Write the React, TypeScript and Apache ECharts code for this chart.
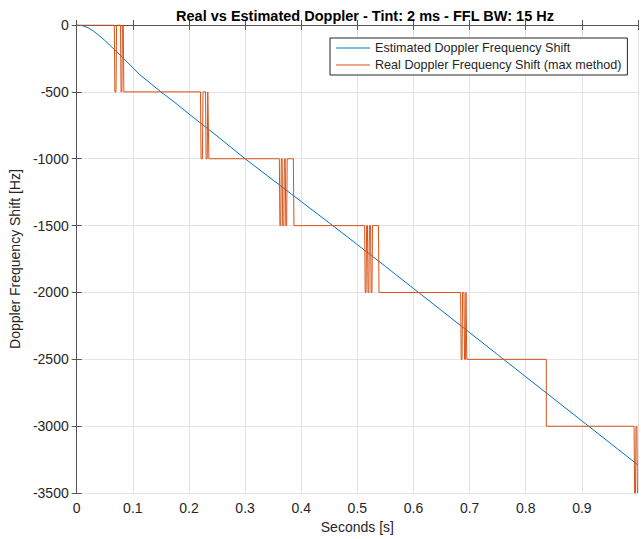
import React, { useEffect, useRef } from "react";
import * as echarts from "echarts";

const TITLE = "Real vs Estimated Doppler - Tint: 2 ms - FFL BW: 15 Hz";
const X_NAME = "Seconds [s]";
const Y_NAME = "Doppler Frequency Shift [Hz]";
const EST_NAME = "Estimated Doppler Frequency Shift";
const REAL_NAME = "Real Doppler Frequency Shift (max method)";

// Estimated Doppler (time [s], frequency [Hz])
const estT = [0, 0.01, 0.02, 0.03, 0.04, 0.05, 0.06, 0.07, 0.08, 0.09, 0.1, 0.1125, 0.125, 0.15, 0.175, 0.2, 0.25, 0.3, 0.35, 0.4, 0.45, 0.5, 0.55, 0.6, 0.65, 0.7, 0.75, 0.8, 0.85, 0.9, 0.95, 1.0];
const estV = [0, -5, -20, -45, -80, -115, -155, -195, -235, -278, -320, -371, -415, -500, -580, -665, -830, -1000, -1160, -1320, -1480, -1642, -1805, -1970, -2135, -2300, -2465, -2630, -2795, -2960, -3125, -3290];

// Real Doppler (max method) as step points (time [s], frequency [Hz])
const realT = [0, 0.067, 0.068, 0.070, 0.071, 0.078, 0.079, 0.0805, 0.0815, 0.083, 0.084,
  0.2205, 0.2215, 0.224, 0.225, 0.2295, 0.2305, 0.2325, 0.2335, 0.2345, 0.2355,
  0.361, 0.362, 0.3635, 0.3645, 0.366, 0.367, 0.369, 0.370, 0.3715, 0.3725, 0.374, 0.375, 0.386, 0.387,
  0.513, 0.514, 0.5155, 0.5165, 0.518, 0.519, 0.5205, 0.5215, 0.5235, 0.5245, 0.526, 0.527, 0.5376, 0.5386,
  0.684, 0.685, 0.6865, 0.6875, 0.690, 0.691, 0.6925, 0.6935, 0.694, 0.695,
  0.8366, 0.8366,
  0.993, 0.994, 0.9955, 0.9965, 0.998, 0.999, 1.0];
const realV = [0, 0, -500, -500, 0, 0, -500, -500, 0, 0, -500,
  -500, -1000, -1000, -500, -500, -1000, -1000, -500, -500, -1000,
  -1000, -1500, -1500, -1000, -1000, -1500, -1500, -1000, -1000, -1500, -1500, -1000, -1000, -1500,
  -1500, -2000, -2000, -1500, -1500, -2000, -2000, -1500, -1500, -2000, -2000, -1500, -1500, -2000,
  -2000, -2500, -2500, -2000, -2000, -2500, -2500, -2000, -2000, -2500,
  -2500, -3000,
  -3000, -3500, -3500, -3000, -3000, -3500, -3500];

const FONT = "'Liberation Sans', Arial, Helvetica, sans-serif";
const AXIS_COLOR = "#555555";
const TEXT_COLOR = "#262626";
const GRID_COLOR = "#e3e3e3";

export default function App() {
  const ref = useRef<HTMLDivElement>(null);
  useEffect(() => {
    if (!ref.current) return;
    const chart = echarts.init(ref.current, undefined, { renderer: "svg" });
    const estData = estT.map((t, i) => [t, estV[i]]);
    const realData = realT.map((t, i) => [t, realV[i]]);
    const commonTick = { show: true, inside: true, length: 5, lineStyle: { color: AXIS_COLOR } };
    chart.setOption({
      animation: false,
      backgroundColor: "#ffffff",
      textStyle: { fontFamily: FONT },
      title: {
        text: TITLE,
        left: 360,
        textAlign: "center",
        top: 3,
        textStyle: { fontSize: 14.5, fontWeight: "bold", color: "#000", fontFamily: FONT },
      },
      legend: {
        data: [EST_NAME, REAL_NAME],
        orient: "vertical",
        left: 330,
        top: 38,
        padding: [3, 6, 3, 6],
        itemGap: 3,
        itemWidth: 34,
        itemHeight: 1,
        icon: "rect",
        borderColor: "#262626",
        borderWidth: 1,
        borderRadius: 0,
        backgroundColor: "#ffffff",
        textStyle: { fontSize: 12.6, color: TEXT_COLOR, fontFamily: FONT, lineHeight: 14 },
      },
      grid: { left: 76, right: -2, top: 25, bottom: 40, containLabel: false },
      xAxis: [
        {
          type: "value",
          min: 0,
          max: 1,
          interval: 0.1,
          name: X_NAME,
          nameLocation: "middle",
          nameGap: 26,
          nameTextStyle: { fontSize: 14, color: TEXT_COLOR, fontFamily: FONT },
          axisLine: { show: true, lineStyle: { color: AXIS_COLOR } },
          axisTick: commonTick,
          axisLabel: {
            fontSize: 14,
            color: TEXT_COLOR,
            margin: 8,
            fontFamily: FONT,
            formatter: (v: number) => (v >= 0.999 ? "" : String(+v.toFixed(1))),
          },
          splitLine: { show: true, lineStyle: { color: GRID_COLOR } },
        },
        {
          type: "value",
          position: "top",
          min: 0,
          max: 1,
          interval: 0.1,
          axisLine: { show: true, lineStyle: { color: AXIS_COLOR } },
          axisTick: commonTick,
          axisLabel: { show: false },
          splitLine: { show: false },
        },
      ],
      yAxis: [
        {
          type: "value",
          min: -3500,
          max: 0,
          interval: 500,
          name: Y_NAME,
          nameLocation: "middle",
          nameGap: 38,
          nameTextStyle: { fontSize: 14, color: TEXT_COLOR, fontFamily: FONT },
          axisLine: { show: true, lineStyle: { color: AXIS_COLOR } },
          axisTick: commonTick,
          axisLabel: {
            fontSize: 14,
            color: TEXT_COLOR,
            margin: 8,
            fontFamily: FONT,
            formatter: (v: number) => String(v),
          },
          splitLine: { show: true, lineStyle: { color: GRID_COLOR } },
        },
        {
          type: "value",
          position: "right",
          min: -3500,
          max: 0,
          interval: 500,
          axisLine: { show: true, lineStyle: { color: AXIS_COLOR } },
          axisTick: commonTick,
          axisLabel: { show: false },
          splitLine: { show: false },
        },
      ],
      series: [
        {
          name: EST_NAME,
          type: "line",
          data: estData,
          symbol: "none",
          smooth: false,
          lineStyle: { color: "#0072BD", width: 1 },
          itemStyle: { color: "#0072BD" },
        },
        {
          name: REAL_NAME,
          type: "line",
          data: realData,
          symbol: "none",
          lineStyle: { color: "#D95319", width: 1 },
          itemStyle: { color: "#D95319" },
        },
      ],
    });
    return () => chart.dispose();
  }, []);
  return (
    <div
      ref={ref}
      style={{ position: "fixed", left: 0, top: 0, width: 641, height: 539, background: "#fff" }}
    />
  );
}
